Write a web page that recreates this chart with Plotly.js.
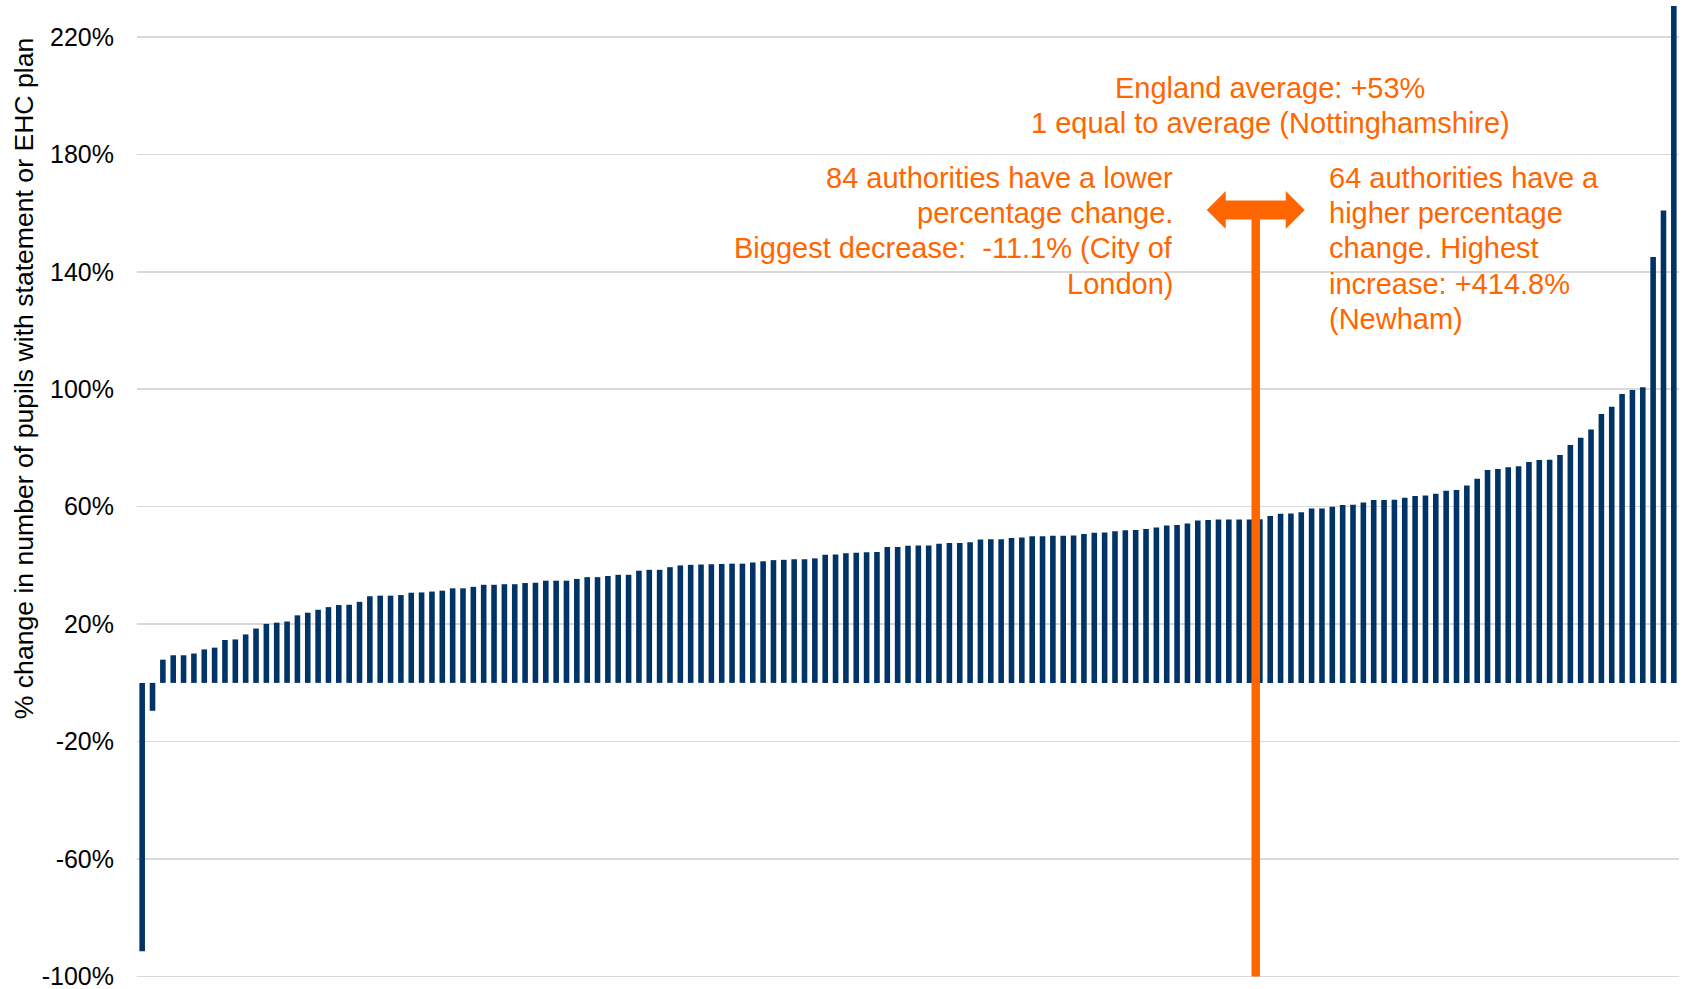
<!DOCTYPE html>
<html>
<head>
<meta charset="utf-8">
<script src="https://cdn.plot.ly/plotly-3.0.1.min.js"></script>
<style>
  html, body { margin: 0; padding: 0; background: #ffffff; }
  #chart { width: 1686px; height: 989px; }
</style>
</head>
<body>
<div id="chart"></div>
<script>
// ---- Data (local authorities ranked by % change, ascending) ----
const authorityRank = Array.from({length: 149}, (_, i) => i + 1);
const pctChange = [
  -91.4, -9.5, 7.9, 9.4, 9.4, 10.0, 11.4, 12.0, 14.6, 14.8,
  16.5, 18.5, 20.1, 20.5, 20.9, 23.0, 23.9, 24.9, 25.8, 26.5,
  26.6, 27.6, 29.5, 29.7, 29.7, 29.9, 30.7, 30.8, 31.1, 31.4,
  32.2, 32.2, 32.7, 33.4, 33.4, 33.6, 33.6, 34.0, 34.1, 34.8,
  34.8, 34.8, 35.4, 36.0, 36.0, 36.4, 36.8, 36.8, 38.2, 38.5,
  38.5, 39.4, 40.0, 40.2, 40.3, 40.4, 40.5, 40.6, 40.6, 41.0,
  41.4, 41.8, 41.9, 42.1, 42.1, 42.4, 43.6, 43.7, 44.1, 44.3,
  44.5, 44.6, 46.3, 46.3, 46.7, 46.8, 46.8, 47.4, 47.6, 47.6,
  47.9, 48.8, 48.9, 48.9, 49.3, 49.5, 49.9, 49.9, 50.1, 50.1,
  50.2, 50.7, 51.1, 51.2, 51.6, 52.0, 52.1, 52.4, 52.9, 53.6,
  53.8, 54.3, 55.3, 55.5, 55.6, 55.6, 55.6, 55.6, 55.7, 56.8,
  57.6, 57.7, 58.1, 59.4, 59.4, 60.0, 60.6, 60.7, 61.4, 62.3,
  62.3, 62.4, 63.0, 63.6, 63.8, 64.4, 65.4, 65.7, 67.2, 69.5,
  72.5, 72.8, 73.4, 73.8, 75.2, 75.9, 76.0, 77.6, 81.0, 83.5,
  86.3, 91.6, 94.0, 98.4, 99.7, 100.7, 145.0, 160.9, 414.8
];
const yTickVals = [-100, -60, -20, 20, 60, 100, 140, 180, 220];
const yTickText = ['-100%', '-60%', '-20%', '20%', '60%', '100%', '140%', '180%', '220%'];

const yTitle = '% change in number of pupils with statement or EHC plan';
const avgLines = ['England average: +53%', '1 equal to average (Nottinghamshire)'];
const lowerLines = ['84 authorities have a lower', 'percentage change.', 'Biggest decrease:\u00A0 -11.1% (City of', 'London)'];
const higherLines = ['64 authorities have a', 'higher percentage', 'change. Highest', 'increase: +414.8%', '(Newham)'];

// ---- Layout geometry ----
const W = 1686, H = 989;
const M = {l: 137, r: 7, t: 6, b: 10.5};
const xRange = [0.5, authorityRank.length + 0.5];
const yRange = [-100.5, 230.5];
const plotW = W - M.l - M.r, plotH = H - M.t - M.b;
const dx = p => p * (xRange[1] - xRange[0]) / plotW;   // pixels -> x units
const dy = p => p * (yRange[1] - yRange[0]) / plotH;   // pixels -> y units
const yAtPx = p => yRange[1] - dy(p - M.t);            // page pixel row -> y value

const ORANGE = '#FF6600';
const NAVY = '#003366';
const FONT = 'Liberation Sans, Arial, sans-serif';

// marker line / arrow placement
const avgLinePos = 108.6;
const arrowLevel = 161;

// double-headed arrow path
const half = 49, headLen = 19, shaftHalf = 9.5, headHalf = 19;
const pts = [
  [-half, 0], [-half + headLen, headHalf], [-half + headLen, shaftHalf],
  [half - headLen, shaftHalf], [half - headLen, headHalf], [half, 0],
  [half - headLen, -headHalf], [half - headLen, -shaftHalf],
  [-half + headLen, -shaftHalf], [-half + headLen, -headHalf]
];
const arrowPath = pts.map((p, i) =>
  (i === 0 ? 'M' : 'L') + (avgLinePos + dx(p[0])).toFixed(4) + ',' + (arrowLevel + dy(p[1])).toFixed(4)
).join(' ') + ' Z';

const trace = {
  type: 'bar',
  x: authorityRank,
  y: pctChange,
  marker: {color: NAVY, line: {width: 0}},
  hoverinfo: 'y'
};

const annFont = {family: FONT, size: 29, color: ORANGE};

function textBlock(lines, x, firstRowPx, pitchPx, anchor) {
  return lines.map((t, i) => ({
    text: t, xref: 'x', yref: 'y', x: x, y: yAtPx(firstRowPx + i * pitchPx),
    xanchor: anchor, yanchor: 'middle', align: anchor, showarrow: false, font: annFont
  }));
}

const annotations = [
  {text: yTitle, xref: 'paper', yref: 'y', x: 0, xshift: -113, y: 103.4,
   xanchor: 'center', yanchor: 'middle', textangle: -90, showarrow: false,
   font: {family: FONT, size: 26.6, color: '#000000'}}
]
  .concat(textBlock(avgLines, 110.0, 88.5, 34.8, 'center'))
  .concat(textBlock(lowerLines, 100.8, 177.6, 35.5, 'right'))
  .concat(textBlock(higherLines, 115.5, 177.6, 35.5, 'left'));

const layout = {
  width: W, height: H,
  margin: M,
  paper_bgcolor: '#ffffff',
  plot_bgcolor: '#ffffff',
  showlegend: false,
  bargap: 0.46,
  font: {family: FONT, color: '#000000'},
  xaxis: {
    range: xRange, showgrid: false, zeroline: false, showticklabels: false,
    showline: false, ticks: ''
  },
  yaxis: {
    range: yRange, tickvals: yTickVals, ticktext: yTickText,
    showgrid: true, gridcolor: '#D9D9D9', gridwidth: 1.6,
    zeroline: false, showline: false, ticks: '',
    tickfont: {family: FONT, size: 25, color: '#000000'},
    ticklabelstandoff: 22,
    ticklabeloverflow: 'allow'
  },
  shapes: [
    {type: 'line', xref: 'x', yref: 'y', x0: avgLinePos, x1: avgLinePos, y0: -100, y1: arrowLevel,
     line: {color: ORANGE, width: 8.5}, layer: 'above'},
    {type: 'path', xref: 'x', yref: 'y', path: arrowPath, fillcolor: ORANGE,
     line: {width: 0}, layer: 'above'}
  ],
  annotations: annotations
};

Plotly.newPlot('chart', [trace], layout, {displayModeBar: false, staticPlot: true});
</script>
</body>
</html>
